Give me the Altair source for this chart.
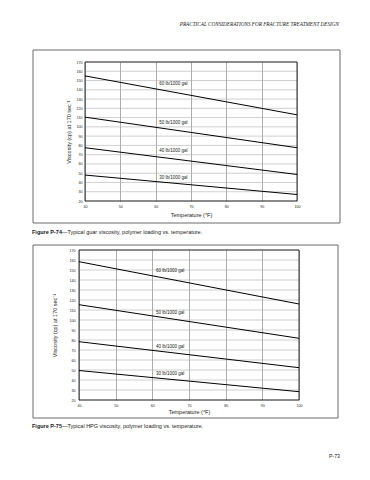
import altair as alt
import pandas as pd

# ---------------- data ----------------
temps = [40, 100]
loadings = ["60 lb/1000 gal", "50 lb/1000 gal", "40 lb/1000 gal", "30 lb/1000 gal"]

guar_60 = [155, 113]
guar_50 = [110.5, 77.5]
guar_40 = [77.5, 48.6]
guar_30 = [48, 27]
guar_label_y = [146, 104, 74, 44.5]

hpg_60 = [158.3, 116]
hpg_50 = [115.3, 81.7]
hpg_40 = [78.3, 52.3]
hpg_30 = [49.5, 28.3]
hpg_label_y = [149, 107, 73, 46.5]

label_temp = 61

x_ticks = [40, 50, 60, 70, 80, 90, 100]
y_ticks = [20, 30, 40, 50, 60, 70, 80, 90, 100, 110, 120, 130, 140, 150, 160, 170]

header_text = "PRACTICAL CONSIDERATIONS FOR FRACTURE TREATMENT DESIGN"
cap1_bold = "Figure P-74"
cap1_rest = "\u2014Typical guar viscosity, polymer loading vs. temperature."
cap2_bold = "Figure P-75"
cap2_rest = "\u2014Typical HPG viscosity, polymer loading vs. temperature."
page_no = "P-73"

x_title = "Temperature (\u00b0F)"
y_title = "Viscosity (cp) at 170 sec\u207b\u00b9"

FONT = "Liberation Sans"
INK = "#1a1a1a"


def one_row():
    return pd.DataFrame({"k": [0]})


def text_at(x, y, txt, size=5.5, align="left", weight="normal", font=FONT, style="normal"):
    return alt.Chart(one_row()).mark_text(
        align=align, baseline="middle", fontSize=size, fontWeight=weight,
        font=font, fontStyle=style, color=INK
    ).encode(x=alt.value(x), y=alt.value(y), text=alt.value(txt))


def x_axis(title_pad):
    return alt.Axis(values=x_ticks, title=x_title, grid=True,
                    gridColor="#8a8a8a", gridWidth=0.7,
                    ticks=False, domain=False, labelFlush=False, labelOverlap=False,
                    labelFontSize=3.6, labelPadding=3,
                    titleFontSize=5.5, titleFontWeight="normal",
                    titlePadding=title_pad, labelColor=INK, titleColor=INK)


def y_axis(label_pad, title_pad, offset):
    return alt.Axis(values=y_ticks, title=y_title, grid=False, offset=offset,
                    ticks=False, domain=False, labelOverlap=False,
                    labelFontSize=3.6, labelPadding=label_pad,
                    titleFontSize=5.5, titleFontWeight="normal",
                    titlePadding=title_pad, labelColor=INK, titleColor=INK)


def panel(series, label_y, w, h, x_range, frame, cap_bold, cap_rest, cap_xy, extras, axes):
    rows = []
    for name, vals in zip(loadings, series):
        for t, v in zip(temps, vals):
            rows.append({"temp": t, "visc": v, "loading": name})
    df = pd.DataFrame(rows)
    lab = pd.DataFrame({"loading": loadings, "visc": label_y,
                        "temp": [label_temp] * len(loadings)})
    grid_df = pd.DataFrame({"visc": y_ticks,
                            "temp": [x_ticks[0]] * len(y_ticks),
                            "temp2": [x_ticks[-1]] * len(y_ticks)})
    plot_df = pd.DataFrame({"temp": [x_ticks[0]], "temp2": [x_ticks[-1]],
                            "visc": [y_ticks[0]], "visc2": [y_ticks[-1]]})

    xa, ya = axes
    xenc = alt.X("temp:Q", scale=alt.Scale(domain=[40, 100], nice=False, range=x_range),
                 axis=xa)
    yenc = alt.Y("visc:Q", scale=alt.Scale(domain=[20, 170], nice=False), axis=ya)

    hgrid = alt.Chart(grid_df).mark_rule(color="#b0b0b0", strokeWidth=0.6).encode(
        x=xenc, x2="temp2:Q", y=yenc)
    plot_frame = alt.Chart(plot_df).mark_rect(
        filled=False, stroke="black", strokeWidth=0.8
    ).encode(x=xenc, x2="temp2:Q", y=yenc, y2="visc2:Q")
    lines = alt.Chart(df).mark_line(color="black", strokeWidth=1).encode(
        x=xenc, y=yenc, detail="loading:N")
    labels = alt.Chart(lab).mark_text(
        align="left", baseline="middle", fontSize=4.5, font=FONT, color=INK
    ).encode(x=xenc, y=yenc, text="loading:N")

    fx1, fx2, fy1, fy2 = frame
    box = alt.Chart(one_row()).mark_rect(
        filled=False, stroke="#6a6a6a", strokeWidth=1
    ).encode(x=alt.value(fx1), x2=alt.value(fx2), y=alt.value(fy1), y2=alt.value(fy2))

    cx, cy = cap_xy
    cap_a = text_at(cx, cy, cap_bold, size=5.5, weight="bold")
    cap_b = text_at(cx + 30, cy, cap_rest, size=5.5)

    return alt.layer(hgrid, lines, plot_frame, labels, box, cap_a, cap_b, *extras).properties(
        width=w, height=h, view=alt.ViewBackground(stroke="transparent"))


c1 = panel(
    [guar_60, guar_50, guar_40, guar_30], guar_label_y, 218, 139, [6, 218],
    (-46, 261, -12, 161), cap1_bold, cap1_rest, (-47, 170),
    [text_at(260, -38, header_text, size=5.2, align="right",
             font="Liberation Serif", style="italic")],
    (x_axis(5), y_axis(3, 5, -6)),
)
c2 = panel(
    [hpg_60, hpg_50, hpg_40, hpg_30], hpg_label_y, 220, 150, [0, 220],
    (-46, 259, -5, 168), cap2_bold, cap2_rest, (-47, 176),
    [text_at(261, 206, page_no, size=5.2, align="right")],
    (x_axis(3), y_axis(4, 12, 0)),
)

chart = alt.vconcat(c1, c2, spacing=8).properties(
    padding={"left": 23, "top": 13, "right": 0, "bottom": 0},
    background="white",
).configure_axis(labelFont=FONT, titleFont=FONT)

chart.save("out.html", embed_options={"renderer": "svg", "actions": False})
